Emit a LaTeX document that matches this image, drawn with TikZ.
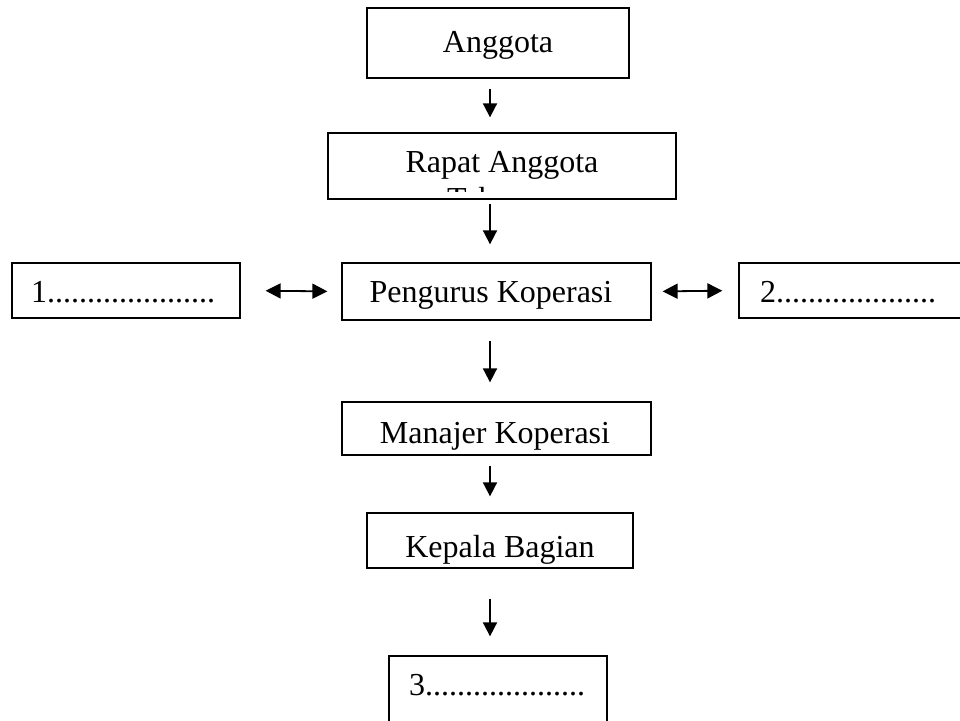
\documentclass[tikz,border=0pt]{standalone}
\usepackage{fontspec}
\setmainfont{Liberation Serif}
\usetikzlibrary{arrows.meta,calc}

\begin{document}
\begin{tikzpicture}[x=1pt,y=-1pt,
  box/.style={draw, line width=1.3pt, inner sep=0pt},
  lbl/.style={anchor=base, inner sep=0pt, font=\fontsize{32}{38}\selectfont},
  arr/.style={line width=1.8pt, -{Triangle[length=14pt,width=14pt]}},
  dbl/.style={line width=1.8pt, {Triangle[length=15pt,width=15pt]}-{Triangle[length=15pt,width=15pt]}}]

\useasboundingbox (0,0) rectangle (960,720);
\clip (0,0) rectangle (960,720);

% boxes of the chart
\node[box, minimum width=262, minimum height=70] (anggota)  at (498,43)    {};
\node[box, minimum width=348, minimum height=66] (rapat)    at (502,166)   {};
\node[box, minimum width=228, minimum height=55] (satu)     at (126,290.5) {};
\node[box, minimum width=309, minimum height=57] (pengurus) at (496.5,291.5) {};
\node[box, minimum width=241, minimum height=55] (dua)      at (859.5,290.5) {};
\node[box, minimum width=309, minimum height=53] (manajer)  at (496.5,428.5) {};
\node[box, minimum width=266, minimum height=55] (kepala)   at (500,540.5) {};
\node[box, minimum width=218, minimum height=94] (tiga)     at (498,703)   {};

% labels
\node[lbl] (tAnggota)  at (498,52)  {Anggota};
\node[lbl] (tRapat)    at (502,172) {Rapat Anggota};
\begin{scope}
  % second line is cut off by the inner edge of the box
  \clip (rapat.north west) rectangle ([yshift=8pt]rapat.south east);
  \node[lbl] (tTahunan) at (502,209) {Tahunan};
\end{scope}
\node[lbl, anchor=base west] (tSatu) at (31,302) {1.....................};
\node[lbl] (tPengurus) at (491,302) {Pengurus Koperasi};
\node[lbl, anchor=base west] (tDua) at (760,302) {2....................};
\node[lbl] (tManajer)  at (495,443) {Manajer Koperasi};
\node[lbl] (tKepala)   at (500,557) {Kepala Bagian};
\node[lbl, anchor=base west] (tTiga) at (409,695) {3....................};

% connectors
\coordinate (spine) at (490,0);
\draw[arr, shorten <=10pt, shorten >=15pt] (anggota.south -| spine) -- (rapat.north -| spine);
\draw[arr, shorten <=4pt,  shorten >=18pt] (rapat.south -| spine) -- (pengurus.north -| spine);
\draw[arr, shorten <=20pt, shorten >=19pt] (pengurus.south -| spine) -- (manajer.north -| spine);
\draw[arr, shorten <=10pt, shorten >=16pt] (manajer.south -| spine) -- (kepala.north -| spine);
\draw[arr, shorten <=30pt, shorten >=19pt] (kepala.south -| spine) -- (tiga.north -| spine);

\draw[dbl, shorten <=25pt, shorten >=14pt] (satu.east) -- (pengurus.west);
\draw[dbl, shorten <=11pt, shorten >=16pt] (pengurus.east) -- (dua.west);
\end{tikzpicture}
\end{document}
